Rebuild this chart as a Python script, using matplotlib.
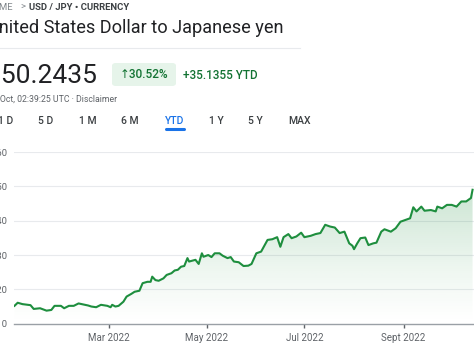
import numpy as np
import pandas as pd
import matplotlib
matplotlib.use("Agg")
import matplotlib.pyplot as plt
import matplotlib.dates as mdates
from matplotlib.colors import to_rgb

plt.rcParams['font.family'] = ['Roboto', 'DejaVu Sans']

# USD/JPY year to date 2022
dates = ['2022-01-01', '2022-01-03', '2022-01-06', '2022-01-11', '2022-01-13', '2022-01-17',
         '2022-01-21', '2022-01-24', '2022-01-26', '2022-01-30', '2022-02-01', '2022-02-04',
         '2022-02-07', '2022-02-10', '2022-02-13', '2022-02-16', '2022-02-18', '2022-02-21',
         '2022-02-24', '2022-02-28', '2022-03-02', '2022-03-03', '2022-03-05', '2022-03-07',
         '2022-03-10', '2022-03-12', '2022-03-15', '2022-03-17', '2022-03-20', '2022-03-22',
         '2022-03-25', '2022-03-27', '2022-03-28', '2022-03-30', '2022-04-01', '2022-04-04',
         '2022-04-06', '2022-04-09', '2022-04-11', '2022-04-13', '2022-04-15', '2022-04-17',
         '2022-04-19', '2022-04-20', '2022-04-24', '2022-04-26', '2022-04-28', '2022-04-29',
         '2022-05-02', '2022-05-04', '2022-05-06', '2022-05-09', '2022-05-11', '2022-05-14',
         '2022-05-16', '2022-05-18', '2022-05-21', '2022-05-24', '2022-05-27', '2022-05-29',
         '2022-06-01', '2022-06-04', '2022-06-08', '2022-06-11', '2022-06-14', '2022-06-16',
         '2022-06-18', '2022-06-21', '2022-06-23', '2022-06-26', '2022-06-29', '2022-07-01',
         '2022-07-05', '2022-07-08', '2022-07-11', '2022-07-14', '2022-07-17', '2022-07-20',
         '2022-07-23', '2022-07-26', '2022-07-29', '2022-07-31', '2022-08-01', '2022-08-03',
         '2022-08-05', '2022-08-08', '2022-08-10', '2022-08-13', '2022-08-15', '2022-08-18',
         '2022-08-20', '2022-08-24', '2022-08-27', '2022-08-30', '2022-09-02', '2022-09-05',
         '2022-09-07', '2022-09-09', '2022-09-12', '2022-09-14', '2022-09-18', '2022-09-21',
         '2022-09-22', '2022-09-25', '2022-09-28', '2022-10-01', '2022-10-04', '2022-10-07',
         '2022-10-10', '2022-10-13', '2022-10-14']
rates = [115.2, 116.1, 115.7, 115.4, 114.3, 114.5,
         113.8, 114.0, 115.2, 115.2, 114.5, 115.2,
         115.2, 115.9, 115.6, 115.3, 115.0, 114.8,
         115.5, 115.2, 114.8, 115.5, 115.0, 115.2,
         116.4, 117.9, 118.7, 119.3, 119.6, 121.8,
         122.2, 122.2, 123.7, 122.7, 122.5, 123.2,
         124.2, 124.7, 125.5, 125.7, 126.6, 126.8,
         129.1, 128.1, 128.6, 127.4, 130.5, 129.5,
         130.0, 129.4, 130.5, 130.5, 129.8, 129.1,
         129.4, 128.1, 127.9, 126.8, 126.9, 127.4,
         130.5, 131.0, 134.4, 134.6, 135.2, 132.4,
         135.2, 136.1, 134.9, 135.4, 136.5, 135.2,
         135.6, 136.1, 136.4, 138.8, 138.3, 138.0,
         136.4, 136.8, 133.4, 132.7, 131.7, 133.4,
         134.9, 135.1, 132.9, 133.4, 133.6, 136.8,
         137.5, 136.8, 137.8, 139.7, 140.2, 140.7,
         143.9, 142.7, 144.1, 142.9, 143.1, 142.7,
         144.1, 143.6, 144.6, 144.6, 144.1, 145.6,
         145.6, 146.6, 149.0]

y_ticks = [110, 120, 130, 140, 150, 160]
x_ticks = ['2022-03-01', '2022-05-01', '2022-07-01', '2022-09-01']
x_tick_labels = ['Mar 2022', 'May 2022', 'Jul 2022', 'Sept 2022']
tabs = ['1 D', '5 D', '1 M', '6 M', 'YTD', '1 Y', '5 Y', 'MAX']
tab_x = [6, 46, 88, 130, 174.5, 216, 255.5, 300]

W, H = 474, 355
GREEN = '#1e8e3e'
GREY = '#5f6368'

fig = plt.figure(figsize=(W / 100, H / 100), dpi=100)


def fx(px):
    return px / W


def fy(py):
    return 1 - py / H


# header texts
fig.text(fx(-14), fy(7), 'HOME', fontsize=6.8, color='#80868b', va='center', ha='left')
fig.text(fx(23), fy(7), '>', fontsize=6.8, color='#80868b', va='center', ha='center')
fig.text(fx(29), fy(7), 'USD / JPY • CURRENCY', fontsize=6.8, color='#3c4043',
         fontweight='bold', va='center', ha='left')
fig.text(fx(-13), fy(28), 'United States Dollar to Japanese yen', fontsize=13.1,
         color='#202124', va='center', ha='left')
fig.add_artist(plt.Line2D([0, fx(300)], [fy(47.5)] * 2, color='#e8eaed', lw=0.8))

fig.text(fx(-13), fy(76), '150.2435', fontsize=19, color='#202124', va='center', ha='left')
badge = matplotlib.patches.FancyBboxPatch((fx(112), fy(86)), fx(64), fy(63) - fy(86),
                                          boxstyle='round,pad=0,rounding_size=0.008',
                                          transform=fig.transFigure, facecolor='#e6f4ea',
                                          edgecolor='none')
fig.add_artist(badge)
fig.text(fx(144), fy(75), '\u2191' + '30.52%', fontsize=8.5, color='#137333',
         fontweight='medium', va='center', ha='center')
fig.text(fx(183), fy(75.5), '+35.1355 YTD', fontsize=8.5, color='#137333',
         fontweight='medium', va='center', ha='left')
fig.text(fx(-11.5), fy(99), '20 Oct, 02:39:25 UTC · Disclaimer', fontsize=6.3, color=GREY,
         va='center', ha='left')

for t, x in zip(tabs, tab_x):
    col = '#1a73e8' if t == 'YTD' else '#3c4043'
    fig.text(fx(x), fy(121), t, fontsize=7.5, color=col, fontweight='medium',
             va='center', ha='center')
fig.add_artist(plt.Line2D([fx(166), fx(183.5)], [fy(129.5)] * 2, color='#1a73e8',
                          lw=2.2, solid_capstyle='round'))

# chart
ax = fig.add_axes([fx(14), fy(323.7), 1 - fx(14), fy(152) - fy(323.7)])
x = mdates.date2num(pd.to_datetime(dates))
y = np.array(rates)
mar1 = mdates.date2num(pd.Timestamp('2022-03-01'))

for v in y_ticks[1:]:
    ax.axhline(v, color='#e8eaed', lw=0.8, zorder=0)

poly = ax.fill_between(x, y, 110, facecolor='none', edgecolor='none')
r, g, b = to_rgb(GREEN)
grad = np.zeros((100, 1, 4))
grad[:, 0, 0], grad[:, 0, 1], grad[:, 0, 2] = r, g, b
grad[:, 0, 3] = np.linspace(0.30, 0.0, 100) ** 1.2
img = ax.imshow(grad, aspect='auto', extent=[x[0], x[-1], 110, 150], origin='upper', zorder=1)
img.set_clip_path(poly.get_paths()[0], transform=ax.transData)
ax.set_xlim(mar1 - 59.3, mar1 + 227.9)
ax.set_ylim(110, 160)

ax.plot(x, y, color=GREEN, lw=1.5, zorder=3, solid_joinstyle='round')

for s in ['top', 'right', 'left']:
    ax.spines[s].set_visible(False)
ax.spines['bottom'].set_color('#9aa0a6')
ax.spines['bottom'].set_linewidth(1.0)

ax.set_yticks(y_ticks)
ax.set_yticklabels([str(v) for v in y_ticks])
ax.tick_params(axis='y', length=0, pad=4.8, labelsize=6.8, labelcolor=GREY)
ax.set_xticks(mdates.date2num(pd.to_datetime(x_ticks)))
ax.set_xticklabels(x_tick_labels)
ax.tick_params(axis='x', length=3, width=1, color=GREY, pad=4, labelsize=7, labelcolor=GREY)

fig.savefig('out.png', dpi=100)
